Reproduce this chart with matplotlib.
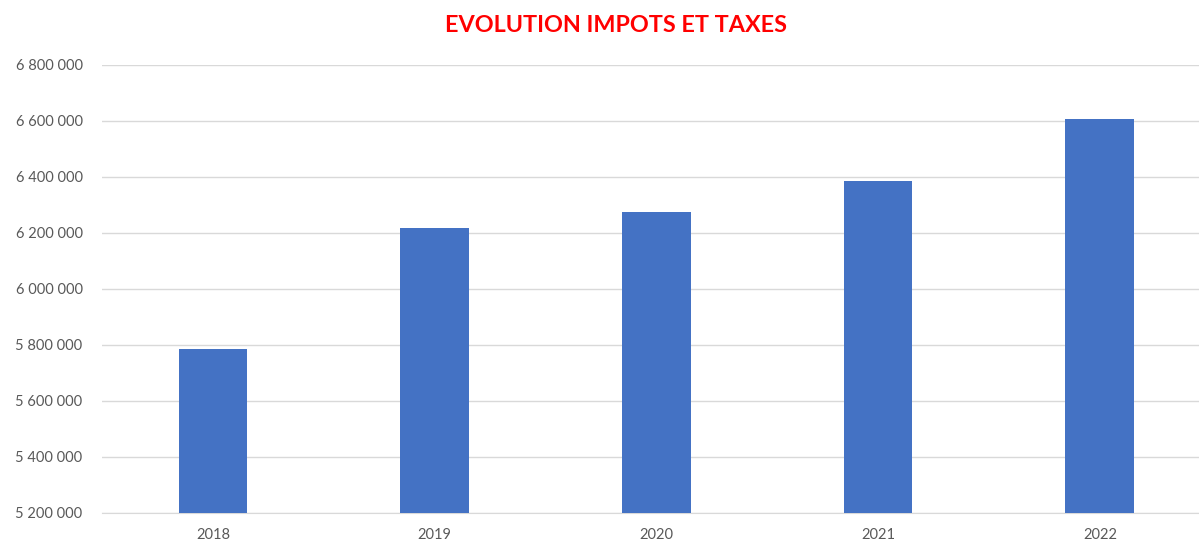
import matplotlib.pyplot as plt
import numpy as np

years = ['2018', '2019', '2020', '2021', '2022']
impots = [5784000, 6218000, 6274000, 6386000, 6606000]
yticks = [5200000, 5400000, 5600000, 5800000, 6000000, 6200000, 6400000, 6600000, 6800000]

plt.rcParams['font.family'] = ['Lato', 'DejaVu Sans']

fig = plt.figure(figsize=(11.99, 5.42), dpi=100)
ax = fig.add_axes([102/1199, 1-513/542, 1108.7/1199, 448/542])

x = np.arange(len(years))
ax.bar(x, impots, width=0.31, color='#4472C4', zorder=3)

ax.set_xlim(-0.5, 4.5)
ax.set_ylim(5200000, 6800000)
ax.set_yticks(yticks)
ax.set_yticklabels([f'{v:,}'.replace(',', ' ') for v in yticks])
ax.set_xticks(x)
ax.set_xticklabels(years)

ax.grid(axis='y', color='#D9D9D9', linewidth=1, zorder=0)
for s in ['top', 'right', 'left']:
    ax.spines[s].set_visible(False)
ax.spines['bottom'].set_color('#D9D9D9')
ax.tick_params(axis='both', length=0, labelsize=10.5, labelcolor='#595959')
ax.tick_params(axis='y', pad=14)
ax.tick_params(axis='x', pad=11)

fig.text(616/1199, 1-26/542, 'EVOLUTION IMPOTS ET TAXES', color='#FF0000',
         fontsize=16.8, fontweight='bold', ha='center', va='center')

fig.savefig('out.png', dpi=100)
